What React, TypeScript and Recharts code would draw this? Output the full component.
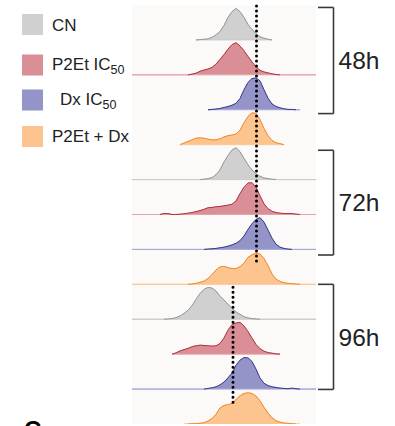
import React from 'react';
import {
  ComposedChart,
  Area,
  Line,
  XAxis,
  YAxis,
  ReferenceLine,
  CartesianGrid,
  Legend,
} from 'recharts';

// fluorescence channel grid (x categories)
const channels = [
  0, 4, 8, 12, 16, 20, 24, 28, 32, 36, 40, 44, 48, 52, 56, 60, 64, 68, 72, 76, 80, 84, 88, 92,
  96, 100, 104, 108, 112, 116, 120, 124, 128, 132, 136, 140, 144, 148, 152, 156, 160, 164, 168,
  172, 176, 180, 184,
];

const treatments = ['CN', 'P2Et IC50', 'Dx IC50', 'P2Et + Dx'];
const legendMain = ['CN', 'P2Et IC', 'Dx IC', 'P2Et + Dx'];
const legendSub = ['', '50', '50', ''];
const timepoints = ['48h', '72h', '96h'];

// histogram counts (% of mode), starting at channel given in *Start
const cn48h = [0, 1, 2, 3, 8, 16, 26, 45, 70, 88, 98, 88, 70, 48, 32, 20, 10, 5, 2, 0];
const cn48hStart = 64;
const p2et48h = [
  0, 0, 0, 0, 0, 0, 0, 0, 0, 0, 0, 0, 0, 0, 0,
  2, 5, 11, 15, 18, 23, 33, 48, 63, 80, 94, 100, 90, 75, 57, 40, 25, 14, 9, 6, 3, 1,
  0, 0, 0, 0, 0, 0, 0, 0, 0, 0,
];
const p2et48hStart = 0;
const dx48h = [0, 1, 2, 4, 7, 10, 14, 20, 35, 62, 85, 97, 99, 90, 62, 36, 18, 10, 6, 3, 1, 1, 0, 0];
const dx48hStart = 76;
const combo48h = [0, 5, 10, 15, 20, 21, 20, 17, 15, 15, 18, 24, 28, 30, 33, 45, 68, 88, 99, 97, 78, 50, 28, 13, 6, 3, 0];
const combo48hStart = 48;

const cn72h = [
  0, 0, 0, 0, 0, 0, 0, 0, 0, 0, 0, 0, 0, 0, 0, 0, 0, 0,
  1, 3, 6, 15, 30, 55, 75, 92, 99, 87, 66, 46, 30, 18, 10, 5, 3, 1,
  0, 0, 0, 0, 0, 0, 0, 0, 0, 0, 0,
];
const cn72hStart = 0;
const p2et72h = [
  0, 0, 0, 0, 0, 0, 0, 0,
  3, 3, 0, 0, 1, 2, 4, 6, 9, 12, 16, 21, 22, 24, 25, 27, 29, 32, 42, 65, 85, 98, 99, 85, 58, 33, 18, 10, 6, 4, 3, 3, 3, 1,
  0, 0, 0, 0, 0,
];
const p2et72hStart = 0;
const dx72h = [
  0, 0, 0, 0, 0, 0, 0, 0, 0, 0, 0, 0, 0, 0, 0, 0, 0, 0, 0,
  1, 2, 3, 5, 7, 10, 14, 19, 27, 42, 62, 80, 93, 99, 85, 60, 35, 16, 7, 3, 1,
  0, 0, 0, 0, 0, 0, 0,
];
const dx72hStart = 0;
const combo72h = [
  0, 0, 0, 0, 0, 0, 0, 0, 0, 0, 0, 0, 0, 0, 0,
  1, 3, 6, 10, 18, 30, 45, 54, 56, 52, 49, 49, 55, 66, 84, 92, 97, 95, 80, 58, 32, 16, 9, 5, 3, 2, 1,
  0, 0, 0, 0, 0,
];
const combo72hStart = 0;

const cn96h = [
  0, 0, 0, 0, 0, 0, 0, 0, 0,
  1, 2, 5, 10, 18, 28, 42, 62, 80, 93, 99, 97, 88, 72, 60, 47, 34, 23, 15, 8, 4, 2, 1,
  0, 0, 0, 0, 0, 0, 0, 0, 0, 0, 0, 0, 0, 0, 0,
];
const cn96hStart = 0;
const p2et96h = [0, 4, 10, 14, 18, 23, 26, 28, 27, 26, 25, 26, 33, 50, 75, 92, 97, 99, 88, 70, 50, 30, 17, 9, 5, 3, 1, 0];
const p2et96hStart = 40;
const dx96h = [
  0, 0, 0, 0, 0, 0, 0, 0, 0, 0, 0, 0, 0, 0, 0, 0, 0, 0, 0,
  2, 4, 7, 13, 22, 35, 50, 74, 90, 98, 97, 86, 62, 34, 18, 11, 7, 5, 3, 2, 1, 3, 1,
  0, 0, 0, 0, 0,
];
const dx96hStart = 0;
const combo96h = [0, 0, 1, 1, 2, 4, 9, 17, 30, 50, 58, 60, 64, 76, 88, 95, 97, 95, 87, 72, 52, 34, 19, 10, 6, 3, 2, 1, 0, 0];
const combo96hStart = 52;

// reference (dotted) marker channel per time block and bracket extents (in row units)
const markerChannel = [124.5, 101];
const markerFrom = [11.97, 3.92];
const markerTo = [4.61, 0.6];
const bracketTop = [11.93, 7.84, 4.0];
const bracketBottom = [8.89, 4.84, 0.99];

// styling
const fills = ['#d0d0d0', '#d98f95', '#9494c9', '#fcc48e'];
const strokes = ['#9a9a9a', '#b3323f', '#363b8f', '#f28a2b'];
const baseStrokes = ['#cacaca', '#e2a4a9', '#a8a8d6', '#fdc792'];
const FONT = '"Liberation Sans", Arial, Helvetica, sans-serif';
const PEAK = 0.0092; // row units per %
const STEP = 4;

const rows = [
  { values: cn48h, start: cn48hStart, t: 0 },
  { values: p2et48h, start: p2et48hStart, t: 1 },
  { values: dx48h, start: dx48hStart, t: 2 },
  { values: combo48h, start: combo48hStart, t: 3 },
  { values: cn72h, start: cn72hStart, t: 0 },
  { values: p2et72h, start: p2et72hStart, t: 1 },
  { values: dx72h, start: dx72hStart, t: 2 },
  { values: combo72h, start: combo72hStart, t: 3 },
  { values: cn96h, start: cn96hStart, t: 0 },
  { values: p2et96h, start: p2et96hStart, t: 1 },
  { values: dx96h, start: dx96hStart, t: 2 },
  { values: combo96h, start: combo96hStart, t: 3 },
];

const table = channels.map((ch) => {
  const rec: Record<string, any> = { ch };
  rows.forEach((r, i) => {
    const k = (ch - r.start) / STEP;
    const has = k >= 0 && k < r.values.length;
    const v = has ? r.values[k] : null;
    const base = rows.length - 1 - i;
    rec['a' + i] = v == null ? null : [base, base + v * PEAK];
    const prev = has && k - 1 >= 0 ? r.values[k - 1] : 0;
    const next = has && k + 1 < r.values.length ? r.values[k + 1] : 0;
    const show = v != null && (v > 0 || prev > 0 || next > 0);
    rec['o' + i] = show ? base + (v as number) * PEAK : null;
  });
  return rec;
});

const legendSquareY = [14, 54.5, 89.5, 126];
const legendTextX = [52, 52, 60, 52];
const legendBaseline = [30.7, 70, 105, 141.7];

const LegendBox = () => (
  <svg width={130} height={160} style={{ display: 'block' }}>
    {treatments.map((t, i) => (
      <g key={t}>
        <rect x={22} y={legendSquareY[i]} width={21} height={21} fill={fills[i]} />
        <text x={legendTextX[i]} y={legendBaseline[i]} fontSize={17} fontFamily={FONT} fill="#222">
          {legendMain[i]}
          {legendSub[i] ? (
            <tspan dy={4} fontSize={12.5}>
              {legendSub[i]}
            </tspan>
          ) : null}
        </text>
      </g>
    ))}
  </svg>
);

export default function App() {
  return (
    <div style={{ position: 'relative', width: 395, height: 426, overflow: 'hidden', background: '#fff' }}>
      <style>{'body{margin:0;}'}</style>
      <ComposedChart
        width={395}
        height={426}
        data={table}
        margin={{ top: 5, right: 79, bottom: 2, left: 132 }}
      >
        <CartesianGrid horizontal={false} vertical={false} fill="#fbfaf8" stroke="none" />
        <XAxis dataKey="ch" type="number" domain={[0, 184]} hide allowDataOverflow />
        <YAxis type="number" domain={[0, 12]} hide allowDataOverflow />
        {rows.map((r, i) => (
          <Area
            key={'a' + i}
            dataKey={'a' + i}
            type="linear"
            fill={fills[r.t]}
            fillOpacity={1}
            stroke={baseStrokes[r.t]}
            strokeWidth={1}
            dot={false}
            activeDot={false}
            isAnimationActive={false}
            legendType="none"
          />
        ))}
        {rows.map((r, i) => (
          <Line
            key={'o' + i}
            dataKey={'o' + i}
            type="linear"
            stroke={strokes[r.t]}
            strokeWidth={1}
            dot={false}
            activeDot={false}
            isAnimationActive={false}
            legendType="none"
          />
        ))}
        {markerChannel.map((x, i) => (
          <ReferenceLine
            key={'m' + i}
            segment={[
              { x, y: markerFrom[i] },
              { x, y: markerTo[i] },
            ]}
            stroke="#000"
            strokeWidth={3}
            strokeDasharray="0 5"
            strokeLinecap="round"
            ifOverflow="visible"
          />
        ))}
        {timepoints.map((tp, i) => (
          <ReferenceLine
            key={'bt' + i}
            segment={[
              { x: 186, y: bracketTop[i] },
              { x: 201.5, y: bracketTop[i] },
            ]}
            stroke="#3a3a3a"
            strokeWidth={1.6}
            ifOverflow="visible"
          />
        ))}
        {timepoints.map((tp, i) => (
          <ReferenceLine
            key={'bb' + i}
            segment={[
              { x: 186, y: bracketBottom[i] },
              { x: 201.5, y: bracketBottom[i] },
            ]}
            stroke="#3a3a3a"
            strokeWidth={1.6}
            ifOverflow="visible"
          />
        ))}
        {timepoints.map((tp, i) => (
          <ReferenceLine
            key={'bv' + i}
            segment={[
              { x: 201.5, y: bracketTop[i] },
              { x: 201.5, y: bracketBottom[i] },
            ]}
            stroke="#3a3a3a"
            strokeWidth={1.6}
            ifOverflow="visible"
            label={{
              value: tp,
              position: 'right',
              offset: 5,
              fontSize: 24.5,
              fontFamily: FONT,
              fill: '#222',
            }}
          />
        ))}
        <Legend
          layout="horizontal"
          align="center"
          verticalAlign="middle"
          wrapperStyle={{ left: 0, top: 0, width: 130, height: 160 }}
          content={() => <LegendBox />}
        />
      </ComposedChart>
      <div
        style={{
          position: 'absolute',
          left: 24,
          top: 415.5,
          fontFamily: FONT,
          fontWeight: 'bold',
          fontSize: 24,
          color: '#000',
        }}
      >
        C
      </div>
    </div>
  );
}
